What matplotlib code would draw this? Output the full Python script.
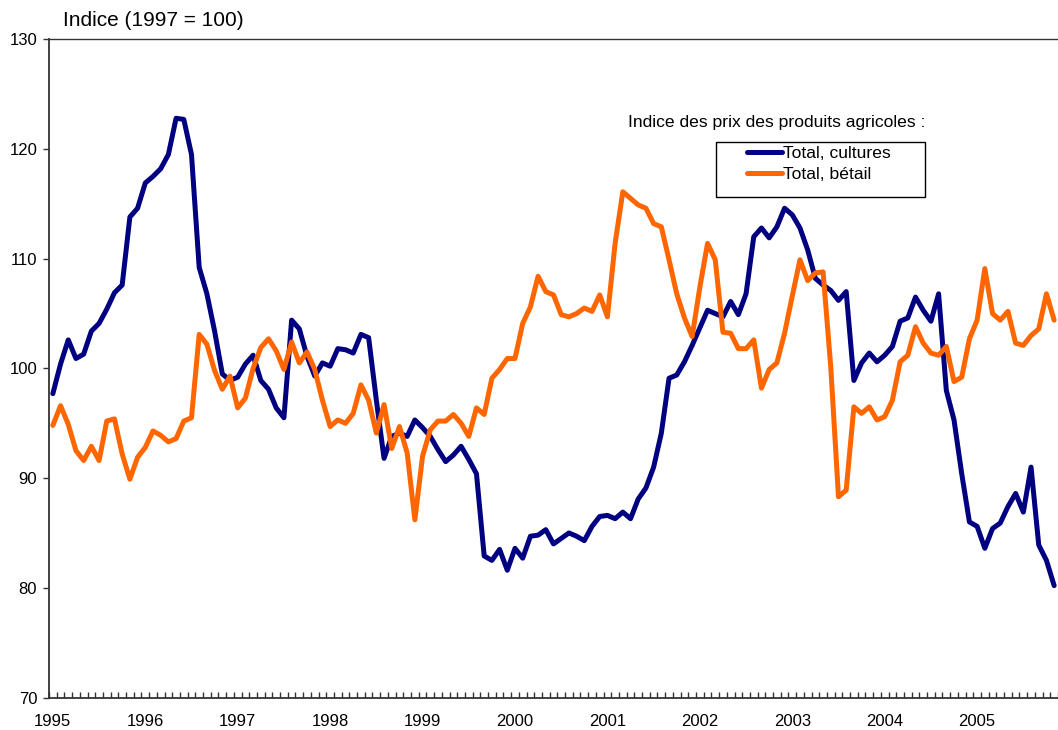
import matplotlib as mpl
mpl.use('Agg')

import matplotlib.pyplot as plt
from matplotlib.patches import Rectangle

# monthly index, Jan 1995 onwards (1997 = 100)
years = [1995, 1996, 1997, 1998, 1999, 2000, 2001, 2002, 2003, 2004, 2005]

cultures = [
    97.7, 100.4, 102.6, 100.9, 101.3, 103.4, 104.1, 105.4, 106.9, 107.6, 113.8, 114.6,
    116.9, 117.5, 118.2, 119.5, 122.8, 122.7, 119.5, 109.2, 106.8, 103.4, 99.5, 98.9,
    99.2, 100.4, 101.2, 98.9, 98.1, 96.4, 95.5, 104.4, 103.6, 101.1, 99.3, 100.5,
    100.2, 101.8, 101.7, 101.4, 103.1, 102.8, 97.1, 91.8, 93.8, 94.1, 93.8, 95.3,
    94.6, 93.8, 92.6, 91.5, 92.1, 92.9, 91.7, 90.4, 82.9, 82.5, 83.5, 81.6,
    83.6, 82.7, 84.7, 84.8, 85.3, 84.0, 84.5, 85.0, 84.7, 84.3, 85.6, 86.5,
    86.6, 86.3, 86.9, 86.3, 88.1, 89.1, 91.0, 94.1, 99.1, 99.4, 100.6, 102.1,
    103.7, 105.3, 105.0, 104.7, 106.1, 104.9, 106.8, 112.0, 112.8, 111.9, 112.9, 114.6,
    114.0, 112.8, 110.8, 108.2, 107.6, 107.1, 106.2, 107.0, 98.9, 100.5, 101.4, 100.6,
    101.2, 102.0, 104.3, 104.6, 106.5, 105.3, 104.3, 106.8, 98.0, 95.3, 90.4, 86.0,
    85.6, 83.6, 85.4, 85.9, 87.4, 88.6, 86.9, 91.0, 83.9, 82.5, 80.2,
]

betail = [
    94.8, 96.6, 94.9, 92.5, 91.6, 92.9, 91.6, 95.2, 95.4, 92.2, 89.9, 91.9,
    92.8, 94.3, 93.9, 93.3, 93.6, 95.2, 95.5, 103.1, 102.2, 99.8, 98.1, 99.3,
    96.4, 97.3, 100.0, 101.9, 102.7, 101.6, 99.9, 102.4, 100.5, 101.5, 99.9, 97.1,
    94.7, 95.3, 95.0, 95.9, 98.5, 97.1, 94.1, 96.7, 92.7, 94.7, 92.3, 86.2,
    92.0, 94.4, 95.2, 95.2, 95.8, 95.0, 93.8, 96.4, 95.8, 99.1, 99.9, 100.9,
    100.9, 104.1, 105.6, 108.4, 107.0, 106.7, 104.9, 104.7, 105.0, 105.5, 105.2, 106.7,
    104.7, 111.4, 116.1, 115.5, 114.9, 114.6, 113.2, 112.9, 109.9, 106.8, 104.6, 102.9,
    107.4, 111.4, 109.9, 103.3, 103.2, 101.8, 101.8, 102.6, 98.2, 99.9, 100.5, 103.2,
    106.6, 109.9, 108.0, 108.7, 108.8, 100.1, 88.3, 88.9, 96.5, 95.9, 96.5, 95.3,
    95.6, 97.1, 100.6, 101.2, 103.8, 102.3, 101.4, 101.2, 102.0, 98.8, 99.2, 102.7,
    104.4, 109.1, 105.0, 104.4, 105.2, 102.3, 102.1, 103.0, 103.6, 106.8, 104.4,
]

labels = ['Total, cultures', 'Total, bétail']
colors = ['#000080', '#FF6600']

plt.rcParams['font.family'] = ['Liberation Sans', 'DejaVu Sans']

W, H = 1058, 730
fig = plt.figure(figsize=(W / 100, H / 100), dpi=100)
ax = fig.add_axes([49 / W, (H - 697.5) / H, (W - 49) / W, (697.5 - 39.3) / H])

months = list(range(len(cultures)))
ax.plot(months, cultures, color=colors[0], lw=3.6, label=labels[0],
        solid_joinstyle='round', solid_capstyle='round')
ax.plot(months, betail, color=colors[1], lw=3.6, label=labels[1],
        solid_joinstyle='round', solid_capstyle='round')

ax.set_xlim(-0.5, 130.5)
ax.set_ylim(70, 130)

ax.set_yticks(range(70, 131, 10))
ax.tick_params(axis='y', direction='out', length=4, width=1, pad=4.5,
               labelsize=12, color='#333333')

ax.set_xticks([12 * k for k in range(len(years))])
ax.set_xticklabels([str(y) for y in years])
ax.set_xticks([m - 0.5 for m in range(132)], minor=True)
ax.tick_params(axis='x', which='major', length=0, pad=12, labelsize=12)
ax.tick_params(axis='x', which='minor', direction='in', length=4, width=1,
               color='#333333')

for s in ['left', 'bottom', 'top']:
    ax.spines[s].set_color('#333333')
    ax.spines[s].set_linewidth(1.3)
ax.spines['top'].set_linewidth(1.0)
ax.spines['right'].set_visible(False)

fig.text(63 / W, 1 - 21 / H, 'Indice (1997 = 100)', fontsize=15,
         va='center', ha='left')
fig.text(925 / W, 1 - 122 / H, 'Indice des prix des produits agricoles :',
         fontsize=12.6, va='center', ha='right')

# legend box
fig.patches.append(Rectangle((715.7 / W, 1 - 196.7 / H), (925 - 715.7) / W,
                             (196.7 - 141.7) / H, transform=fig.transFigure,
                             fill=False, edgecolor='black', lw=1))
ax.legend(loc='upper left', bbox_to_anchor=(746.7 / W, 1 - 146 / H),
          bbox_transform=fig.transFigure, frameon=False, fontsize=12.6,
          borderpad=0, borderaxespad=0, handlelength=2.0, handletextpad=0.1,
          labelspacing=0.3)

fig.savefig('out.png', dpi=100)
